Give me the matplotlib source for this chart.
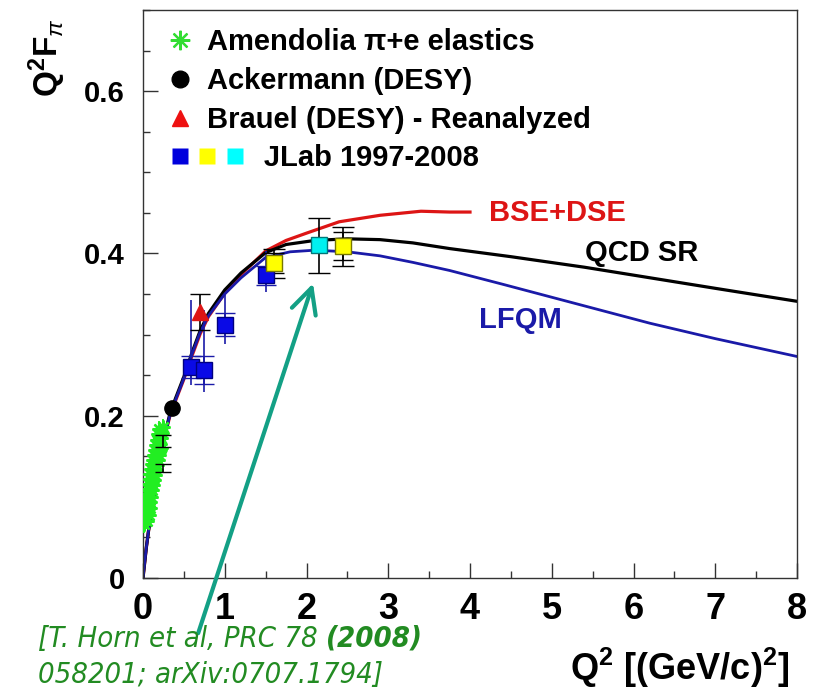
import matplotlib
matplotlib.use("Agg")
import matplotlib.pyplot as plt
from matplotlib.lines import Line2D
from matplotlib.legend_handler import HandlerBase
from matplotlib.ticker import MultipleLocator

plt.rcParams['font.family'] = ['Liberation Sans', 'DejaVu Sans']
plt.rcParams['mathtext.fontset'] = 'custom'
plt.rcParams['mathtext.rm'] = 'Liberation Sans'
plt.rcParams['mathtext.bf'] = 'Liberation Sans:bold'
plt.rcParams['mathtext.it'] = 'Liberation Sans:italic'

# --- theory curves (Q^2 in GeV^2, Q^2 F_pi) ---
q2_bse = [0, 0.04, 0.09, 0.17, 0.25, 0.33, 0.4, 0.5, 0.6, 0.7, 0.8, 1.0, 1.2, 1.5, 1.75, 2.0, 2.4, 2.9, 3.4, 3.75, 4.0]
f_bse = [0, 0.037, 0.075, 0.122, 0.168, 0.200, 0.219, 0.245, 0.274, 0.301, 0.322, 0.351, 0.374, 0.403, 0.416, 0.425, 0.439, 0.447, 0.452, 0.451, 0.451]

q2_qcd = [0, 0.04, 0.09, 0.17, 0.25, 0.33, 0.4, 0.5, 0.6, 0.7, 0.8, 1.0, 1.2, 1.5, 1.75, 2.1, 2.5, 2.9, 3.3, 3.75, 4.5, 5.4, 6.2, 7.0, 8.0]
f_qcd = [0, 0.037, 0.075, 0.123, 0.170, 0.203, 0.222, 0.248, 0.278, 0.305, 0.326, 0.355, 0.376, 0.401, 0.411, 0.416, 0.418, 0.417, 0.413, 0.406, 0.396, 0.383, 0.370, 0.357, 0.341]

q2_lfqm = [0, 0.04, 0.09, 0.17, 0.25, 0.33, 0.4, 0.5, 0.6, 0.7, 0.8, 1.0, 1.2, 1.5, 1.8, 2.1, 2.5, 2.9, 3.3, 3.75, 4.4, 5.0, 5.6, 6.2, 7.0, 8.0]
f_lfqm = [0, 0.037, 0.075, 0.122, 0.169, 0.201, 0.220, 0.246, 0.276, 0.303, 0.323, 0.350, 0.370, 0.395, 0.402, 0.404, 0.402, 0.397, 0.389, 0.379, 0.362, 0.346, 0.330, 0.314, 0.295, 0.273]

# --- data ---
q2_am = [0.010, 0.050, 0.025, 0.070, 0.030, 0.080, 0.040, 0.090, 0.050, 0.100,
         0.060, 0.112, 0.070, 0.122, 0.080, 0.135, 0.090, 0.145, 0.100, 0.158,
         0.112, 0.168, 0.125, 0.180, 0.138, 0.192, 0.150, 0.202, 0.162, 0.212,
         0.175, 0.222, 0.188, 0.232, 0.200, 0.242, 0.060, 0.110, 0.150, 0.215]
f_am = [0.066, 0.070, 0.080, 0.078, 0.090, 0.086, 0.097, 0.094, 0.104, 0.100,
        0.110, 0.108, 0.116, 0.114, 0.122, 0.121, 0.128, 0.127, 0.134, 0.133,
        0.140, 0.139, 0.146, 0.145, 0.152, 0.151, 0.158, 0.158, 0.164, 0.165,
        0.170, 0.172, 0.177, 0.179, 0.184, 0.186, 0.085, 0.118, 0.143, 0.160]
err_am = 0.010

q2_blk = [0.245, 0.245]
f_blk = [0.169, 0.136]
err_blk = [0.007, 0.005]

q2_ack = [0.35]
f_ack = [0.209]

q2_brauel = [0.70]
f_brauel = [0.328]
err_brauel = [0.022]

q2_jlab_b = [0.59, 0.75, 1.00, 1.51]
f_jlab_b = [0.260, 0.256, 0.312, 0.373]
stat_jlab_b = [0.013, 0.017, 0.014, 0.012]
tot_lo_jlab_b = [0.022, 0.027, 0.024, 0.020]
tot_hi_jlab_b = [0.082, 0.074, 0.037, 0.030]

q2_jlab_y = [1.60, 2.45]
f_jlab_y = [0.388, 0.409]
stat_jlab_y = [0.012, 0.017]
tot_jlab_y = [0.018, 0.024]

q2_jlab_c = [2.15]
f_jlab_c = [0.410]
err_jlab_c = [0.034]

RED = '#dd1515'
BLUE = '#1a1aa8'
GREEN_PT = '#22ee22'
TXT_GREEN = '#228b22'
TEAL = '#13a085'
NARROW = dict(fontfamily='DejaVu Sans', fontstretch='condensed')

fig = plt.figure(figsize=(8.17, 6.92), dpi=100)
ax = fig.add_axes([143 / 817, 1 - 578 / 692, 654 / 817, 568 / 692])

# theory curves
ax.plot(q2_bse, f_bse, color=RED, lw=2.3, zorder=2)
ax.plot(q2_qcd, f_qcd, color='black', lw=2.3, zorder=2)
ax.plot(q2_lfqm, f_lfqm, color=BLUE, lw=2.0, zorder=2)

# Amendolia pi+e
ax.errorbar(q2_am, f_am, yerr=err_am, fmt='none', ecolor=GREEN_PT, lw=1.3, zorder=3)
ax.plot(q2_am, f_am, ls='none', marker=(8, 2, 0), ms=10, mec=GREEN_PT, mew=1.7, zorder=3)
ax.errorbar(q2_blk, f_blk, yerr=err_blk, fmt='none', ecolor='black', lw=1.2, capsize=6, zorder=4)

# DESY
ax.plot(q2_ack, f_ack, 'o', color='black', ms=11, zorder=5)
ax.errorbar(q2_brauel, f_brauel, yerr=err_brauel, fmt='^', color=RED, ms=11,
            ecolor='black', elinewidth=1.2, capsize=7, zorder=5)

# JLab
ax.errorbar(q2_jlab_b, f_jlab_b, yerr=[tot_lo_jlab_b, tot_hi_jlab_b], fmt='none',
            ecolor=BLUE, elinewidth=1.2, zorder=4)
ax.errorbar(q2_jlab_b, f_jlab_b, yerr=stat_jlab_b, fmt='s', mfc='#0a0ae6', mec='#000080',
            ms=11, ecolor=BLUE, elinewidth=1.2, capsize=7, zorder=5)
ax.errorbar(q2_jlab_y, f_jlab_y, yerr=tot_jlab_y, fmt='none', ecolor='black',
            elinewidth=1.2, capsize=8, zorder=4)
ax.errorbar(q2_jlab_y, f_jlab_y, yerr=stat_jlab_y, fmt='s', mfc='#ffff00', mec='#777700',
            ms=11, ecolor='black', elinewidth=1.2, capsize=7, zorder=5)
ax.errorbar(q2_jlab_c, f_jlab_c, yerr=err_jlab_c, fmt='s', mfc='#00f0f0', mec='#007777',
            ms=11, ecolor='black', elinewidth=1.2, capsize=8, zorder=5)

# curve labels
ax.text(5.07, 0.450, 'BSE+DSE', color=RED, fontsize=21, fontweight='bold', ha='center', va='center')
ax.text(6.10, 0.400, 'QCD SR', color='black', fontsize=21, fontweight='bold', ha='center', va='center')
ax.text(4.62, 0.318, 'LFQM', color=BLUE, fontsize=21, fontweight='bold', ha='center', va='center')

# axes
ax.set_xlim(0, 8)
ax.set_ylim(0, 0.7)
ax.set_xticks(range(9))
ax.xaxis.set_minor_locator(MultipleLocator(0.5))
ax.set_yticks([0, 0.2, 0.4, 0.6])
ax.set_yticklabels(['0', '0.2', '0.4', '0.6'])
ax.yaxis.set_minor_locator(MultipleLocator(0.05))
ax.tick_params(which='both', direction='in', top=False, right=False, color='#333333')
ax.tick_params(which='major', length=11, width=1)
ax.tick_params(which='minor', length=5, width=1)
ax.tick_params(axis='x', pad=10)
ax.tick_params(axis='y', pad=13)
for lab in ax.get_xticklabels():
    lab.set_fontweight('bold')
    lab.set_fontsize(26)
for lab in ax.get_yticklabels():
    lab.set_fontweight('bold')
    lab.set_fontsize(21)
for sp in ax.spines.values():
    sp.set_color('#333333')
    sp.set_linewidth(1)

ax.set_xlabel(r'$\mathbf{Q^{2}\ [(GeV/c)^{2}]}$', fontsize=26, loc='right')
ax.xaxis.set_label_coords(0.989, -0.12)
ax.set_ylabel(r'$\mathbf{Q^{2}F}_{\pi}$', fontsize=24, loc='top')
ax.yaxis.set_label_coords(-0.115, 0.985)


# legend: three coloured squares share the JLab entry
class SquareRow(HandlerBase):
    def create_artists(self, legend, orig_handle, xdescent, ydescent, width, height, fontsize, trans):
        arts = []
        step = 0.94 * fontsize
        for i, h in enumerate(orig_handle):
            ln = Line2D([width / 2 - xdescent + i * step], [height / 2 - ydescent], ls='none',
                        marker='s', ms=h.get_markersize(), mfc=h.get_markerfacecolor(), mec='none')
            ln.set_transform(trans)
            arts.append(ln)
        return arts


h_am = Line2D([], [], ls='none', marker=(8, 2, 0), ms=14, mec='#33dd33', mew=1.6)
h_ack = Line2D([], [], ls='none', marker='o', ms=12, mfc='black', mec='black')
h_br = Line2D([], [], ls='none', marker='^', ms=12, mfc='#ee1111', mec='#ee1111')
h_jl = (Line2D([], [], marker='s', ms=11, mfc='#0000dd'),
        Line2D([], [], marker='s', ms=11, mfc='#ffff00'),
        Line2D([], [], marker='s', ms=11, mfc='#00ffff'))
leg = ax.legend([h_am, h_ack, h_br, h_jl],
                ['Amendolia \u03c0+e elastics', 'Ackermann (DESY)', 'Brauel (DESY) - Reanalyzed',
                 '       JLab 1997-2008'],
                handler_map={tuple: SquareRow()},
                loc='upper left', bbox_to_anchor=(0.0, 1.007), frameon=False,
                prop={'weight': 'bold', 'size': 21}, handlelength=1.0, handletextpad=0.42,
                labelspacing=0.365, borderaxespad=0.37)

# reference arrow and citation
ax.annotate('', xy=(2.08, 0.363), xytext=(0.675, -0.068),
            arrowprops=dict(arrowstyle='->,head_length=0.9,head_width=0.45', color=TEAL, lw=3,
                            mutation_scale=20, shrinkA=0, shrinkB=0),
            annotation_clip=False)

t1 = fig.text(38 / 817, 1 - 653 / 692, '[T. Horn et al, PRC 78 ', color=TXT_GREEN, fontsize=21,
              style='italic', va='bottom', **NARROW)
ax.annotate('(2008)', xy=(1, 0), xycoords=t1, va='bottom', ha='left', color=TXT_GREEN,
            fontsize=21, style='italic', fontweight='bold', **NARROW)
fig.text(38 / 817, 1 - 689 / 692, '058201; arXiv:0707.1794]', color=TXT_GREEN, fontsize=21,
         style='italic', va='bottom', **NARROW)

fig.savefig('out.png', dpi=100)
